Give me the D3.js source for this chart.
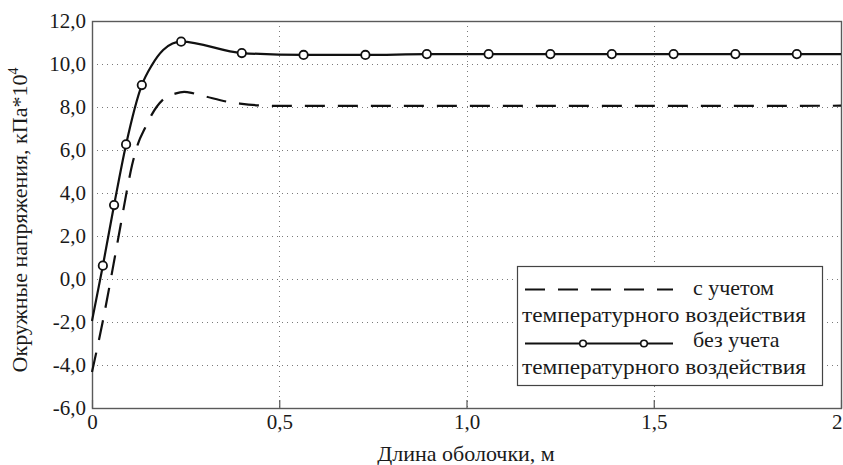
<!DOCTYPE html>
<html>
<head>
<meta charset="utf-8">
<script src="https://cdn.jsdelivr.net/npm/d3@7"></script>
<style>
  html, body { margin: 0; padding: 0; background: #fff; }
  svg { display: block; }
</style>
</head>
<body>
<div id="chart"></div>
<script>
// ---- data ----
const seriesNames = ["с учетом", "без учета"];
const legendSubtitle = "температурного воздействия";

// dashed series: "с учетом температурного воздействия"
const withTempX = [0, 0.029, 0.061, 0.077, 0.093, 0.107, 0.123, 0.141, 0.158, 0.19, 0.222, 0.246, 0.27, 0.306, 0.36, 0.395, 0.45, 0.5, 0.7, 1.0, 1.3, 1.6, 2.0];
const withTempY = [-4.33, -1.95, 1.02, 2.56, 4.1, 5.3, 6.3, 7.0, 7.6, 8.35, 8.62, 8.70, 8.64, 8.48, 8.25, 8.16, 8.07, 8.05, 8.05, 8.05, 8.05, 8.05, 8.06];

// solid series with markers: "без учета температурного воздействия"
const noTempX = [0, 0.029, 0.059, 0.091, 0.133, 0.16, 0.19, 0.215, 0.238, 0.40, 0.565, 0.73, 0.894, 1.059, 1.224, 1.388, 1.553, 1.718, 1.882, 2.0];
const noTempY = [-1.95, 0.62, 3.44, 6.26, 9.02, 9.95, 10.65, 10.95, 11.04, 10.51, 10.42, 10.42, 10.46, 10.46, 10.46, 10.46, 10.46, 10.46, 10.46, 10.46];
const noTempMarker = [0, 1, 1, 1, 1, 0, 0, 0, 1, 1, 1, 1, 1, 1, 1, 1, 1, 1, 1, 0];

const xTickValues = [0, 0.5, 1.0, 1.5, 2.0];
const xTickLabels = ["0", "0,5", "1,0", "1,5", "2"];
const yTickValues = [-6, -4, -2, 0, 2, 4, 6, 8, 10, 12];
const yTickLabels = ["-6,0", "-4,0", "-2,0", "0,0", "2,0", "4,0", "6,0", "8,0", "10,0", "12,0"];

const xAxisTitle = "Длина оболочки, м";
const yAxisTitle = "Окружные напряжения, кПа*10";
const yAxisTitleSup = "4";

// ---- layout ----
const W = 843, H = 465;
const mLeft = 92, mRight = 841, mTop = 21, mBottom = 408;
const FONT = "'Liberation Serif', 'Liberation Sans', Arial, sans-serif";
const FS = 21;
const FT = 22;

const svg = d3.select("#chart").append("svg")
  .attr("width", W).attr("height", H)
  .attr("viewBox", `0 0 ${W} ${H}`)
  .attr("font-family", FONT);

svg.append("rect").attr("width", W).attr("height", H).attr("fill", "#fff");

const x = d3.scaleLinear().domain([0, 2]).range([mLeft, mRight]);
const y = d3.scaleLinear().domain([-6, 12]).range([mBottom, mTop]);

// grid
const gridG = svg.append("g").attr("stroke", "#7a7a7a").attr("stroke-width", 1)
  .attr("stroke-dasharray", "1,4").attr("fill", "none");
gridG.selectAll("line.h").data(yTickValues.filter(v => v > -6 && v < 12)).join("line")
  .attr("class", "h")
  .attr("x1", mLeft).attr("x2", mRight)
  .attr("y1", d => Math.round(y(d)) + 0.5).attr("y2", d => Math.round(y(d)) + 0.5);
gridG.selectAll("line.v").data(xTickValues.filter(v => v > 0 && v < 2)).join("line")
  .attr("class", "v")
  .attr("y1", mTop).attr("y2", mBottom)
  .attr("x1", d => Math.round(x(d)) + 0.5).attr("x2", d => Math.round(x(d)) + 0.5);

// axes using d3 axis generators (inward ticks)
const xAxis = d3.axisBottom(x).tickValues(xTickValues)
  .tickFormat((d, i) => xTickLabels[i]).tickSizeInner(-8).tickSizeOuter(0).tickPadding(14);
const gx = svg.append("g").attr("transform", `translate(0,${mBottom})`).call(xAxis)
  .attr("font-family", FONT).attr("font-size", FS);
gx.select(".domain").remove();
gx.selectAll(".tick line").attr("stroke", "#555").attr("stroke-width", 1.2);
gx.selectAll(".tick text").attr("fill", "#1a1a1a").attr("dy", "0.71em").attr("y", 6)
  .attr("text-anchor", (d, i) => i === xTickValues.length - 1 ? "end" : "middle")
  .attr("x", (d, i) => i === xTickValues.length - 1 ? 842 - x(d) : 0);

const yAxis = d3.axisLeft(y).tickValues(yTickValues)
  .tickFormat((d, i) => yTickLabels[i]).tickSizeInner(0).tickSizeOuter(0).tickPadding(6);
const gy = svg.append("g").attr("transform", `translate(${mLeft},0)`).call(yAxis)
  .attr("font-family", FONT).attr("font-size", FS);
gy.select(".domain").remove();
gy.selectAll(".tick text").attr("fill", "#1a1a1a");

// frame
svg.append("rect")
  .attr("x", mLeft + 0.5).attr("y", mTop + 0.5)
  .attr("width", mRight - mLeft).attr("height", mBottom - mTop)
  .attr("fill", "none").attr("stroke", "#5a5a5a").attr("stroke-width", 1.4);

// lines
const dashedData = withTempX.map((v, i) => [v, withTempY[i]]);
const solidData = noTempX.map((v, i) => [v, noTempY[i]]);
const lineGen = d3.line().x(d => x(d[0])).y(d => y(d[1])).curve(d3.curveMonotoneX);

svg.append("path").datum(dashedData)
  .attr("d", lineGen).attr("fill", "none").attr("stroke", "#111")
  .attr("stroke-width", 2.2).attr("stroke-dasharray", "20,13");

svg.append("path").datum(solidData)
  .attr("d", lineGen).attr("fill", "none").attr("stroke", "#111")
  .attr("stroke-width", 2.2);

svg.append("g").selectAll("circle")
  .data(solidData.filter((d, i) => noTempMarker[i]))
  .join("circle")
  .attr("cx", d => x(d[0])).attr("cy", d => y(d[1])).attr("r", 4.2)
  .attr("fill", "#fff").attr("stroke", "#111").attr("stroke-width", 1.8);

// legend
const lg = svg.append("g").attr("font-family", FONT).attr("font-size", FT).attr("fill", "#1a1a1a");
lg.append("rect").attr("x", 517.5).attr("y", 266.5).attr("width", 305).attr("height", 119)
  .attr("fill", "#fff").attr("stroke", "#444").attr("stroke-width", 1.2);
lg.append("line").attr("x1", 525).attr("x2", 673).attr("y1", 289.5).attr("y2", 289.5)
  .attr("stroke", "#111").attr("stroke-width", 2.2).attr("stroke-dasharray", "20,13");
lg.append("line").attr("x1", 525).attr("x2", 673).attr("y1", 343.5).attr("y2", 343.5)
  .attr("stroke", "#111").attr("stroke-width", 2.2);
lg.selectAll("circle.lm").data([583, 644]).join("circle").attr("class", "lm")
  .attr("cx", d => d).attr("cy", 343.5).attr("r", 3.3)
  .attr("fill", "#fff").attr("stroke", "#111").attr("stroke-width", 1.6);
lg.append("text").attr("x", 693).attr("y", 295).text(seriesNames[0]);
lg.append("text").attr("x", 522).attr("y", 322).attr("textLength", 284).attr("lengthAdjust", "spacingAndGlyphs").text(legendSubtitle);
lg.append("text").attr("x", 693).attr("y", 347).text(seriesNames[1]);
lg.append("text").attr("x", 522).attr("y", 374).attr("textLength", 284).attr("lengthAdjust", "spacingAndGlyphs").text(legendSubtitle);

// axis titles
svg.append("text").attr("x", 466).attr("y", 461)
  .attr("font-size", FT).attr("fill", "#1a1a1a")
  .attr("text-anchor", "middle").text(xAxisTitle);

const yt = svg.append("text")
  .attr("transform", `translate(27,${220}) rotate(-90)`)
  .attr("fill", "#1a1a1a")
  .attr("text-anchor", "middle").attr("font-size", FT);
yt.append("tspan").text(yAxisTitle);
yt.append("tspan").attr("dy", -9).attr("font-size", 14).text(yAxisTitleSup);
</script>
</body>
</html>
